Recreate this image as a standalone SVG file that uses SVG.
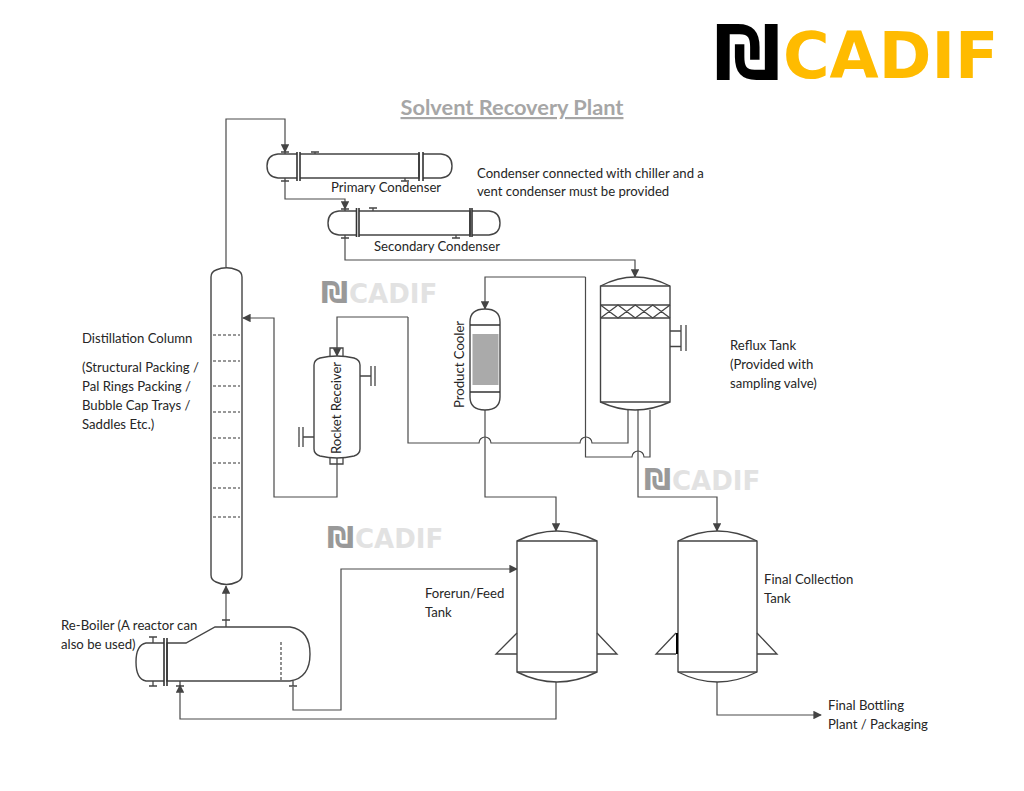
<svg xmlns="http://www.w3.org/2000/svg" width="1024" height="791" viewBox="0 0 1024 791">
<style>
text{font-family:"Lato","Open Sans","Liberation Sans",sans-serif;font-size:13.150px;fill:#262626}
.v{fill:#fff;stroke:#444;stroke-width:1.4}
.n{fill:none;stroke:#444;stroke-width:1.3}
.k{fill:none;stroke:#333;stroke-width:1.6}
.c{fill:none;stroke:#4a4a4a;stroke-width:1.2;marker-end:url(#a)}
.p{fill:none;stroke:#4a4a4a;stroke-width:1.2}
.d{fill:none;stroke:#333;stroke-width:1.1;stroke-dasharray:3 2}
.logo{font-family:"DejaVu Sans",sans-serif;font-weight:700}
.ws{font-size:30px;fill:#999}
.wt{font-size:26px;fill:#e2e2e2}
</style>
<defs>
<marker id="a" viewBox="0 0 10 10" refX="9" refY="5" markerWidth="8.500" markerHeight="8.500" markerUnits="userSpaceOnUse" orient="auto"><path d="M0 0L10 5L0 10z" fill="#444"/></marker>
</defs>
<rect width="1024" height="791" fill="#fff"/>
<g id="logo">
<text class="logo" x="714" y="79" style="font-size:74px;fill:#000">₪</text>
<text class="logo" x="783" y="78" style="font-size:63.500px;fill:#ffbb00">CADIF</text>
</g>
<g id="watermarks">
<g><text class="logo ws" x="321" y="303">₪</text><text class="logo wt" x="349" y="303">CADIF</text></g>
<g><text class="logo ws" x="327" y="548">₪</text><text class="logo wt" x="355" y="548">CADIF</text></g>
<g><text class="logo ws" x="644" y="490">₪</text><text class="logo wt" x="672" y="490">CADIF</text></g>
</g>
<text id="title" x="512" y="115" text-anchor="middle" text-decoration="underline" style="font-size:21.800px;font-weight:700;fill:#a6a6a6">Solvent Recovery Plant</text>
<g id="connectors">
<path class="c" d="M226 267V119H285V152"/>
<path class="c" d="M285 181V199H345V209"/>
<path class="c" d="M345 238V260H635V277"/>
<path class="c" d="M408 317H337V356"/>
<path class="p" d="M408 317V443H479A6 6 0 0 1 491 443H580A6 6 0 0 1 592 443H628V410"/>
<path class="c" d="M585.500 277H485V309"/>
<path class="p" d="M585.500 277V457H632A6 6 0 0 1 644 457H650V410"/>
<path class="c" d="M485 410V497H556V531"/>
<path class="c" d="M638 410V497H717V531"/>
<path class="c" d="M337 464V497H274V318H243"/>
<path class="c" d="M293 687V710H341V569H517"/>
<path class="c" d="M556 682V719H180V685"/>
<path class="c" d="M717 682V715H821"/>
<path class="c" d="M226 620V586"/>
</g>
<g id="primary-condenser">
<path class="v" d="M297 154H278Q267 155 267 166Q267 177 278 178H297M300 154H419V178H300M423 154H441Q452 155 452 166Q452 177 441 178H423"/>
<path class="k" d="M297 152V181M300 152V181M419 152V181M423 152V181"/>
<path class="n" d="M281 152H289M285 152V154M311 152H319M315 152V154M281 181H289M285 178V181M401 181H409M405 178V181"/>
</g>
<g id="secondary-condenser">
<path class="v" d="M356 211H339Q328 212 328 223Q328 234 339 235H356M359 211H470V235H359M472 211H489Q500 212 500 223Q500 234 489 235H472"/>
<path class="k" d="M356.500 208V237M359 208V237M470 208V237M472 208V237"/>
<path class="n" d="M341 209H349M345 209V211M369 208H377M373 208V211M341 238H349M345 235V238M452 238H460M456 235V238"/>
</g>
<g id="distillation-column">
<path class="v" d="M211 277Q211 272 216 270Q226.500 265.500 237 270Q242 272 242 277V575Q242 580 237 582Q226.500 587 216 582Q211 580 211 575Z"/>
<path class="d" d="M213 335H240M213 361H240M213 386H240M213 412H240M213 438H240M213 463H240M213 488H240M213 517H240"/>
</g>
<g id="rocket-receiver">
<path class="n" d="M330 356V348H343V356M330 458V464H343V458M360 376H371M314 437H303M371 366V386M375 366V386M303 427V447M299 427V447M337 458V464"/>
<path class="v" d="M314 365Q314 360 320 358Q337 354 354 358Q360 360 360 365V449Q360 454 354 456Q337 460 320 456Q314 454 314 449Z"/>
<text transform="translate(341 454) rotate(-90)">Rocket Receiver</text>
</g>
<g id="product-cooler">
<path class="v" d="M470 322Q470 309 485 309Q500 309 500 322V397Q500 410 485 410Q470 410 470 397Z"/>
<path class="k" d="M470 325H500M470 392H500"/>
<rect x="472.500" y="334" width="26" height="51" fill="#aaa"/>
<text transform="translate(464 408) rotate(-90)">Product Cooler</text>
</g>
<g id="reflux-tank">
<path class="v" d="M600.500 286Q635 268 670 286V402Q635 418 600.500 402Z"/>
<path class="n" d="M600.500 286H670M600.500 305H670M600.500 318H670M600.500 402H670"/>
<path class="n" stroke-width="1" d="M600.500 305L618 318L635.300 305L652.700 318L670 305M600.500 318L618 305L635.300 318L652.700 305L670 318"/>
<path class="n" d="M670 331H681M670 346.500H681M681 325V351M686 325V351"/>
</g>
<g id="reboiler">
<path class="v" d="M164 643H146Q136 645 136 662Q136 679 146 681H164M167 643H186L215 627H290Q310 630 310 654Q310 678 290 681H167Z"/>
<path class="k" d="M164 638V686M167 638V686"/>
<path class="d" stroke-dasharray="2 2" d="M281 642V681"/>
<path class="n" d="M149 637H157M153 637V643M149 686H157M153 681V686M222 620H230M226 620V627M176 686H184M180 681V686M289 686H297M293 681V686"/>
</g>
<g id="forerun-tank">
<path class="v" d="M517 541Q557 521 597 541V672Q557 692 517 672Z"/>
<path class="n" d="M517 541H597M517 672H597M517 633L496 654H517M597 633L617 654H597"/>
</g>
<g id="final-tank">
<path class="v" d="M678 541Q717.500 521 757 541V672Q717.500 692 678 672Z"/>
<path class="n" d="M678 541H757M678 672H757M676 633L656 654H676M757 633L777 654H757"/>
<path fill="none" stroke="#000" stroke-width="2" d="M677 633V654"/>
</g>
<g id="labels">
<text x="331" y="192">Primary Condenser</text>
<text x="374" y="251">Secondary Condenser</text>
<text x="477" y="178">Condenser connected with chiller and a</text>
<text x="477" y="196">vent condenser must be provided</text>
<text x="82" y="343">Distillation Column</text>
<text x="82" y="372">(Structural Packing /</text>
<text x="82" y="391">Pal Rings Packing /</text>
<text x="82" y="410">Bubble Cap Trays /</text>
<text x="82" y="429">Saddles Etc.)</text>
<text x="730" y="350">Reflux Tank</text>
<text x="730" y="369">(Provided with</text>
<text x="730" y="388">sampling valve)</text>
<text x="61" y="630">Re-Boiler (A reactor can</text>
<text x="61" y="649">also be used)</text>
<text x="425" y="598">Forerun/Feed</text>
<text x="425" y="617">Tank</text>
<text x="764" y="584">Final Collection</text>
<text x="764" y="603">Tank</text>
<text x="828" y="710">Final Bottling</text>
<text x="828" y="729">Plant / Packaging</text>
</g>
</svg>
